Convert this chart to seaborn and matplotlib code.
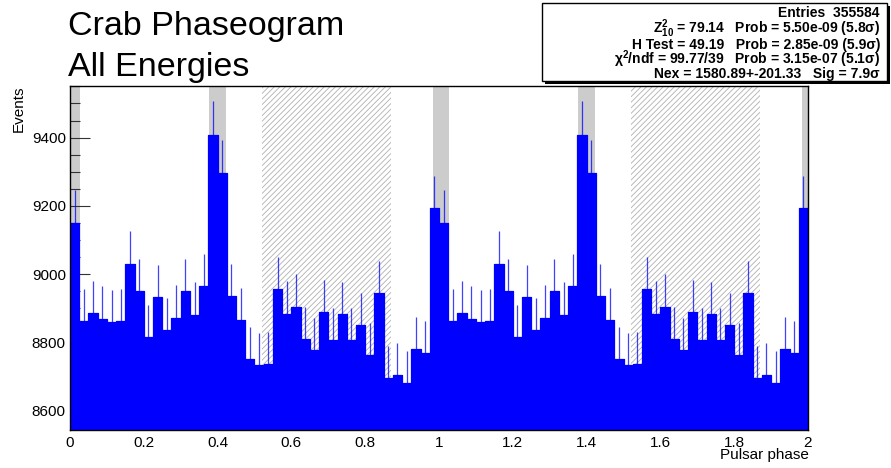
import numpy as np
import pandas as pd
import matplotlib
matplotlib.use("Agg")
import matplotlib.pyplot as plt
from matplotlib.patches import Rectangle
from matplotlib.ticker import MultipleLocator, FuncFormatter
import seaborn as sns

# Events per phase bin over one rotation (40 bins of 0.025), drawn for two periods
counts_one_period = [
    9150, 8862, 8887, 8870, 8860, 8864, 9031, 8951, 8816, 8933,
    8837, 8873, 8951, 8882, 8965, 9409, 9297, 8936, 8865, 8753,
    8734, 8736, 8956, 8885, 8905, 8811, 8779, 8889, 8807, 8884,
    8807, 8852, 8763, 8944, 8697, 8705, 8683, 8780, 8769, 9193,
]
n_periods = 2

# Phase regions: main pulse (P1), interpulse (P2) and off-pulse background
p1_range = (-0.017, 0.026)
p2_range = (0.377, 0.422)
off_range = (0.52, 0.87)

title_lines = ["Crab Phaseogram", "All Energies"]
x_label = "Pulsar phase"
y_label = "Events"
stats_lines = [
    "Entries  355584",
    r"Z$^{\mathbf{2}}_{\mathbf{10}}$ = 79.14   Prob = 5.50e-09 (5.8σ)",
    "H Test = 49.19   Prob = 2.85e-09 (5.9σ)",
    r"χ$^{\mathbf{2}}$/ndf = 99.77/39   Prob = 3.15e-07 (5.1σ)",
    "Nex = 1580.89+-201.33   Sig = 7.9σ",
]

sns.set_style("white")
plt.rcParams["font.family"] = ["Liberation Sans", "DejaVu Sans"]
plt.rcParams["mathtext.fontset"] = "custom"
plt.rcParams["mathtext.rm"] = "Liberation Sans"
plt.rcParams["mathtext.bf"] = "Liberation Sans:bold"
plt.rcParams["mathtext.it"] = "Liberation Sans:italic"
plt.rcParams["hatch.linewidth"] = 0.6
for key in ("text.color", "axes.labelcolor", "xtick.color", "ytick.color"):
    plt.rcParams[key] = "black"

counts = np.tile(counts_one_period, n_periods)
n_bins = len(counts)
edges = np.linspace(0, n_periods, n_bins + 1)
centers = 0.5 * (edges[:-1] + edges[1:])
errors = np.sqrt(counts)
df = pd.DataFrame({"phase": centers, "events": counts})

W, H = 891, 468
fig = plt.figure(figsize=(W / 100, H / 100), dpi=100)
ax = fig.add_axes([70 / W, 1 - 430 / H, 738 / W, 344 / H])
ax.set_axisbelow(True)

# Signal and background phase regions, repeated each period
for k in range(n_periods + 1):
    for lo, hi in (p1_range, p2_range):
        ax.axvspan(lo + k, hi + k, facecolor="#cccccc", edgecolor="none",
                   linewidth=0, zorder=0.1)
for k in range(n_periods):
    ax.axvspan(off_range[0] + k, off_range[1] + k, facecolor="none",
               edgecolor="#b0b0b0", hatch="//////", linewidth=0, zorder=0.1)

sns.histplot(data=df, x="phase", weights="events", bins=n_bins,
             binrange=(0, n_periods), element="step", fill=True,
             color="#0000ff", alpha=1.0, linewidth=0.9, ax=ax)
ax.errorbar(centers, counts, yerr=errors, fmt="none", ecolor="#0000ff",
            elinewidth=0.9, alpha=0.75, capsize=0, zorder=3)

ax.set_xlim(0, n_periods)
ax.set_ylim(8544, 9551)
ax.yaxis.set_major_locator(MultipleLocator(200))
ax.yaxis.set_minor_locator(MultipleLocator(50))
ax.xaxis.set_major_locator(MultipleLocator(0.2))
ax.xaxis.set_major_formatter(FuncFormatter(lambda v, p: f"{v:g}"))
ax.tick_params(axis="y", which="major", direction="in", length=14.4,
               width=0.8, color="#333333", labelsize=11, pad=3, left=True)
ax.tick_params(axis="y", which="minor", direction="in", length=7.2,
               width=0.8, color="#333333", left=True)
ax.tick_params(axis="x", which="both", length=0, labelsize=11, pad=4)
for s in ax.spines.values():
    s.set_color("black")
    s.set_linewidth(1.0)
ax.set_xlabel("")
ax.set_ylabel("")

fig.text(809 / W, 1 - 455 / H, x_label, ha="right", va="center", fontsize=11)
fig.text(19 / W, 1 - 86 / H, y_label, ha="center", va="top", rotation=90,
         fontsize=11)

# Title in the upper-left corner
fig.text(68 / W, 1 - 35 / H, title_lines[0], ha="left", va="baseline",
         fontsize=24.5)
fig.text(68 / W, 1 - 76 / H, title_lines[1], ha="left", va="baseline",
         fontsize=24.5)

# Statistics box with drop shadow
bx0, by0, bx1, by1 = 542, 3, 887, 81
fig.patches.append(Rectangle(((bx0 + 3) / W, 1 - (by1 + 3) / H),
                             (bx1 - bx0) / W, (by1 - by0) / H,
                             transform=fig.transFigure, facecolor="black",
                             edgecolor="black", linewidth=0, zorder=5))
fig.patches.append(Rectangle((bx0 / W, 1 - by1 / H),
                             (bx1 - bx0) / W, (by1 - by0) / H,
                             transform=fig.transFigure, facecolor="white",
                             edgecolor="black", linewidth=1.0, zorder=6))
line_baselines = [17.3, 33.0, 48.7, 64.3, 78.0]
for txt, y in zip(stats_lines, line_baselines):
    fig.text(880 / W, 1 - y / H, txt, ha="right", va="baseline",
             fontsize=10, fontweight="bold", zorder=7)

fig.savefig("out.png", dpi=100)
